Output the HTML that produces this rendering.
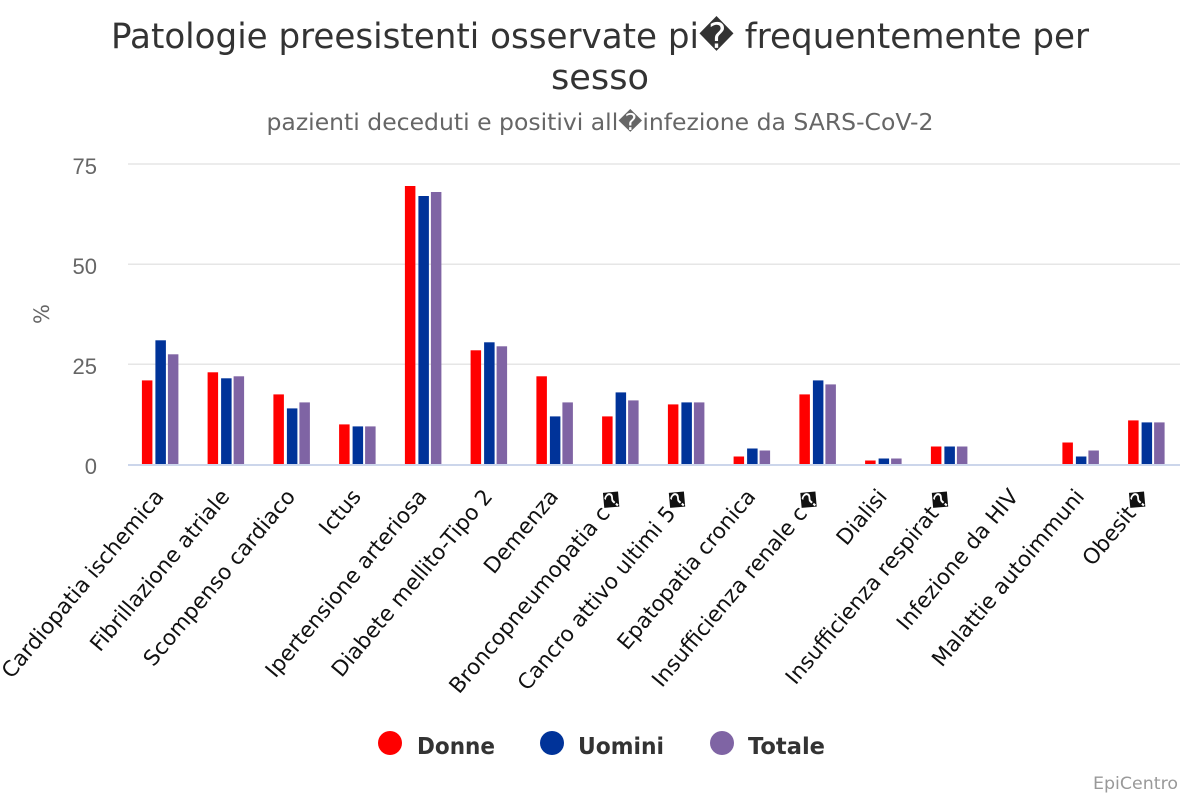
<!DOCTYPE html>
<html>
<head>
<meta charset="utf-8">
<style>
html,body{margin:0;padding:0;background:#fff;}
svg{display:block;}
</style>
</head>
<body>
<svg width="1200" height="800" viewBox="0 0 1200 800" xmlns="http://www.w3.org/2000/svg">
<rect width="1200" height="800" fill="#fff"/>
<!-- Title -->
<text x="600" y="48" text-anchor="middle" font-family="DejaVu Sans, sans-serif" font-size="35" fill="#333" textLength="978" lengthAdjust="spacingAndGlyphs">Patologie preesistenti osservate pi� frequentemente per</text>
<text x="600" y="89" text-anchor="middle" font-family="DejaVu Sans, sans-serif" font-size="35" fill="#333" textLength="98" lengthAdjust="spacingAndGlyphs">sesso</text>
<text x="600" y="130" text-anchor="middle" font-family="DejaVu Sans, sans-serif" font-size="23" fill="#666" textLength="667" lengthAdjust="spacingAndGlyphs">pazienti deceduti e positivi all�infezione da SARS-CoV-2</text>

<!-- gridlines -->
<g stroke="#e6e6e6" stroke-width="1.5">
<line x1="128" y1="164" x2="1180" y2="164"/>
<line x1="128" y1="264.2" x2="1180" y2="264.2"/>
<line x1="128" y1="364.3" x2="1180" y2="364.3"/>
</g>

<!-- y labels -->
<g font-family="Liberation Sans, sans-serif" font-size="22" fill="#666" text-anchor="end">
<text x="97" y="174">75</text>
<text x="97" y="274">50</text>
<text x="97" y="374">25</text>
<text x="97" y="474">0</text>
</g>
<text transform="translate(49,314) rotate(-90)" text-anchor="middle" font-family="DejaVu Sans, sans-serif" font-size="21" fill="#666">%</text>

<!-- bars: Donne -->
<g fill="#ff0000">
<rect x="141.9" y="380.4" width="10.5" height="84.1"/>
<rect x="207.6" y="372.3" width="10.5" height="92.2"/>
<rect x="273.4" y="394.4" width="10.5" height="70.1"/>
<rect x="339.1" y="424.4" width="10.5" height="40.1"/>
<rect x="404.9" y="186.0" width="10.5" height="278.5"/>
<rect x="470.6" y="350.3" width="10.5" height="114.2"/>
<rect x="536.4" y="376.3" width="10.5" height="88.2"/>
<rect x="602.1" y="416.4" width="10.5" height="48.1"/>
<rect x="667.9" y="404.4" width="10.5" height="60.1"/>
<rect x="733.6" y="456.5" width="10.5" height="8"/>
<rect x="799.4" y="394.4" width="10.5" height="70.1"/>
<rect x="865.1" y="460.5" width="10.5" height="4"/>
<rect x="930.9" y="446.5" width="10.5" height="18"/>
<rect x="1062.4" y="442.5" width="10.5" height="22"/>
<rect x="1128.1" y="420.4" width="10.5" height="44.1"/>
</g>
<!-- Uomini -->
<g fill="#003399">
<rect x="155.4" y="340.3" width="10.5" height="124.2"/>
<rect x="221.1" y="378.3" width="10.5" height="86.2"/>
<rect x="286.9" y="408.4" width="10.5" height="56.1"/>
<rect x="352.6" y="426.4" width="10.5" height="38.1"/>
<rect x="418.4" y="196.0" width="10.5" height="268.5"/>
<rect x="484.1" y="342.3" width="10.5" height="122.2"/>
<rect x="549.9" y="416.4" width="10.5" height="48.1"/>
<rect x="615.6" y="392.4" width="10.5" height="72.1"/>
<rect x="681.4" y="402.4" width="10.5" height="62.1"/>
<rect x="747.1" y="448.5" width="10.5" height="16"/>
<rect x="812.9" y="380.4" width="10.5" height="84.1"/>
<rect x="878.6" y="458.5" width="10.5" height="6"/>
<rect x="944.4" y="446.5" width="10.5" height="18"/>
<rect x="1075.9" y="456.5" width="10.5" height="8"/>
<rect x="1141.6" y="422.4" width="10.5" height="42.1"/>
</g>
<!-- Totale -->
<g fill="#7f64a4">
<rect x="167.9" y="354.3" width="10.5" height="110.2"/>
<rect x="233.6" y="376.3" width="10.5" height="88.2"/>
<rect x="299.4" y="402.4" width="10.5" height="62.1"/>
<rect x="365.1" y="426.4" width="10.5" height="38.1"/>
<rect x="430.9" y="192.0" width="10.5" height="272.5"/>
<rect x="496.6" y="346.3" width="10.5" height="118.2"/>
<rect x="562.4" y="402.4" width="10.5" height="62.1"/>
<rect x="628.1" y="400.4" width="10.5" height="64.1"/>
<rect x="693.9" y="402.4" width="10.5" height="62.1"/>
<rect x="759.6" y="450.5" width="10.5" height="14"/>
<rect x="825.4" y="384.4" width="10.5" height="80.1"/>
<rect x="891.1" y="458.5" width="10.5" height="6"/>
<rect x="956.9" y="446.5" width="10.5" height="18"/>
<rect x="1088.4" y="450.5" width="10.5" height="14"/>
<rect x="1154.1" y="422.4" width="10.5" height="42.1"/>
</g>

<!-- x axis line -->
<line x1="128" y1="465" x2="1180" y2="465" stroke="#ccd6eb" stroke-width="2"/>

<!-- x labels -->
<g font-family="DejaVu Sans, sans-serif" font-size="21.5" fill="#111" text-anchor="end">
<text transform="translate(164.9,497) rotate(-50)">Cardiopatia ischemica</text>
<text transform="translate(230.6,497) rotate(-50)">Fibrillazione atriale</text>
<text transform="translate(296.4,497) rotate(-50)">Scompenso cardiaco</text>
<text transform="translate(362.1,497) rotate(-50)">Ictus</text>
<text transform="translate(427.9,497) rotate(-50)">Ipertensione arteriosa</text>
<text transform="translate(493.6,497) rotate(-50)">Diabete mellito-Tipo 2</text>
<text transform="translate(559.4,497) rotate(-50)">Demenza</text>
<text transform="translate(625.1,497) rotate(-50)">Broncopneumopatia c�</text>
<text transform="translate(690.9,497) rotate(-50)">Cancro attivo ultimi 5�</text>
<text transform="translate(756.6,497) rotate(-50)">Epatopatia cronica</text>
<text transform="translate(822.4,497) rotate(-50)">Insufficienza renale c�</text>
<text transform="translate(888.1,497) rotate(-50)">Dialisi</text>
<text transform="translate(953.9,497) rotate(-50)">Insufficienza respirat�</text>
<text transform="translate(1019.6,497) rotate(-50)">Infezione da HIV</text>
<text transform="translate(1085.4,497) rotate(-50)">Malattie autoimmuni</text>
<text transform="translate(1151.1,497) rotate(-50)">Obesit�</text>
</g>

<!-- legend -->
<circle cx="390" cy="743" r="12" fill="#ff0000"/>
<circle cx="552" cy="743" r="12" fill="#003399"/>
<circle cx="722" cy="743" r="12" fill="#7f64a4"/>
<g font-family="DejaVu Sans, sans-serif" font-size="23" font-weight="bold" fill="#333">
<text x="417" y="754" textLength="78" lengthAdjust="spacingAndGlyphs">Donne</text>
<text x="578" y="754" textLength="86" lengthAdjust="spacingAndGlyphs">Uomini</text>
<text x="748" y="754" textLength="77" lengthAdjust="spacingAndGlyphs">Totale</text>
</g>

<!-- credits -->
<text x="1178" y="789" text-anchor="end" font-family="DejaVu Sans, sans-serif" font-size="17" fill="#999" textLength="85" lengthAdjust="spacingAndGlyphs">EpiCentro</text>
</svg>
</body>
</html>
